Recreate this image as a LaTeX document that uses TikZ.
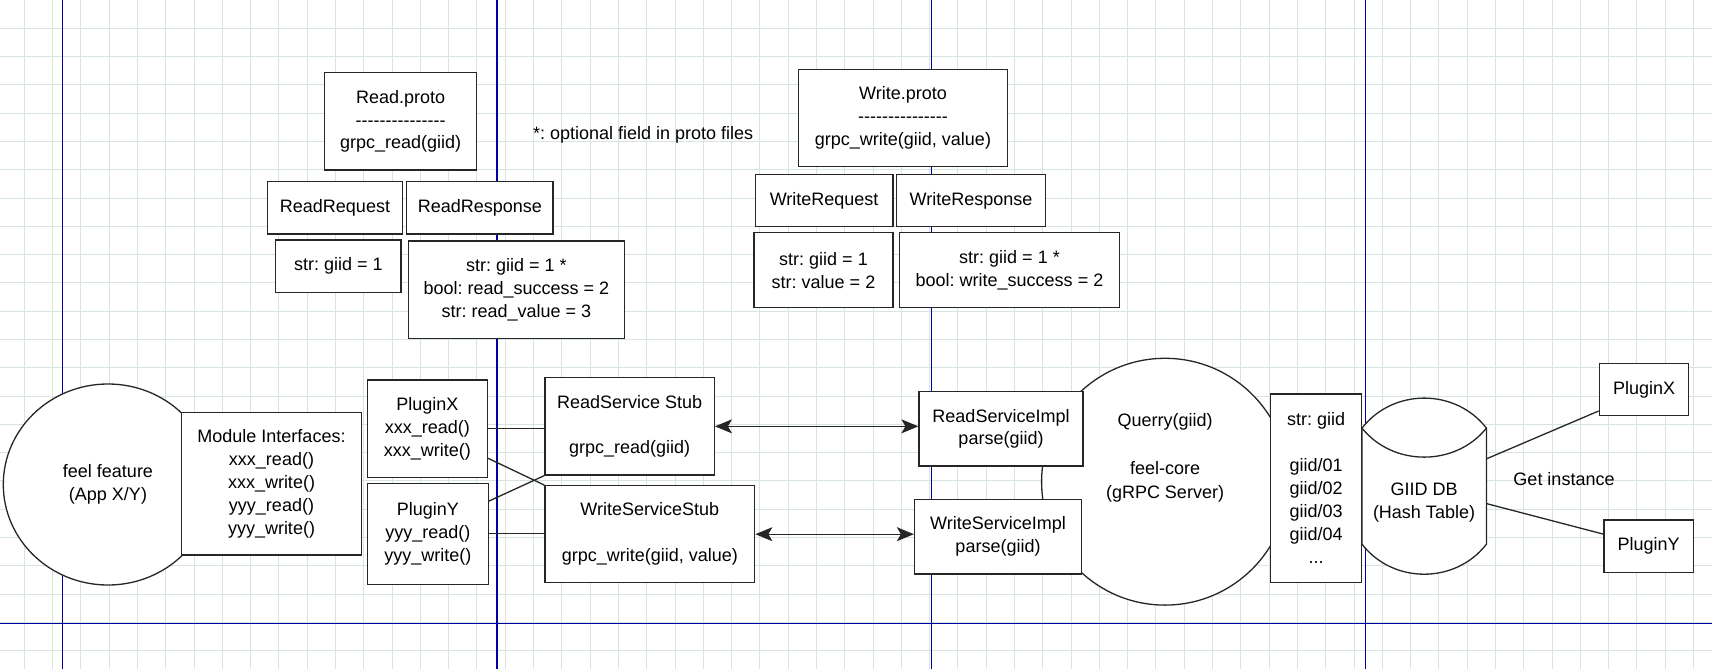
\documentclass[tikz,border=0pt]{standalone}
\usepackage{fontspec}
\setmainfont{Liberation Sans}
\frenchspacing
\usetikzlibrary{shapes.geometric,arrows.meta,calc}
\definecolor{gridcol}{RGB}{216,228,226}
\definecolor{pagecol}{RGB}{0,0,160}
\newcommand\dashrow{\foreach\d in {1,...,15}{-}}
\tikzset{
  pagegrid/.style={draw=gridcol,line width=0.9pt},
  pageedge/.style={draw=pagecol,line width=1.1pt},
  box/.style n args={2}{draw=black!85,fill=white,line width=1.3pt,inner sep=0pt,align=center,minimum width=#1,minimum height=#2},
  blob/.style={ellipse,draw=black!85,fill=white,line width=1.3pt,inner sep=0pt,align=center},
  wire/.style={draw=black!85,line width=1.3pt},
  sync/.style={wire,{Stealth[length=17pt,width=14pt,inset=4pt]}-{Stealth[length=17pt,width=14pt,inset=4pt]}}
}
\begin{document}
\begin{tikzpicture}[x=1pt,y=-1pt,font=\fontsize{18}{22.9}\selectfont]
\useasboundingbox (0,0) rectangle (1712,669);

% page background
\foreach \k in {0,...,59}
  \draw[pagegrid] ({24.3+\k*28.29},0) -- ({24.3+\k*28.29},669);
\foreach \k in {0,...,22}
  \draw[pagegrid] (0,{28.3+\k*28.29}) -- (1712,{28.3+\k*28.29});
\foreach \px in {62.3,497,931.2,1365.3}
  \draw[pageedge] (\px,0) -- (\px,669);
\draw[pageedge] (0,623.3) -- (1712,623.3);

% client side
\node[blob,minimum width=209.4,minimum height=201] (feel) at (108,484.5) {feel feature\\(App X/Y)};
\node[box={179.6}{142.3}] (iface) at (271.5,483.85) {Module Interfaces:\\xxx\_read()\\xxx\_write()\\yyy\_read()\\yyy\_write()};
\node[box={120}{97.3}] (plugx) at (427.3,428.65) {PluginX\\xxx\_read()\\xxx\_write()};
\node[box={121}{101}] (plugy) at (427.8,533.8) {PluginY\\yyy\_read()\\yyy\_write()};
\node[box={169.4}{97.3}] (rstub) at (629.6,426.35) {ReadService Stub\\\mbox{}\\grpc\_read(giid)};
\node[box={209.8}{97}] (wstub) at (649.8,534.2) {WriteServiceStub\\\mbox{}\\grpc\_write(giid, value)};

\draw[wire] (plugx.east) -- (plugx.east -| rstub.west);
\draw[wire] ($(plugx.east)!0.6!(plugx.south east)$) -- (wstub.north west);
\draw[wire] ($(plugy.north east)!0.36!(plugy.east)$) -- (rstub.south west);
\draw[wire] (plugy.east) -- (plugy.east -| wstub.west);

% server side
\node[blob,minimum width=246.8,minimum height=246.8] (core) at (1165,481.7) {};
\node[align=center,font=\fontsize{18}{24.2}\selectfont] (coretext) at (1165,458) {Querry(giid)\\\mbox{}\\feel-core\\(gRPC Server)};
\node[box={164}{74.3}] (rimpl) at (1001,428.85) {ReadServiceImpl\\parse(giid)};
\node[box={167}{74.7}] (wimpl) at (998,536.65) {WriteServiceImpl\\parse(giid)};
\node[box={91}{188.3}] (giids) at (1316.2,488.15) {str: giid\\\mbox{}\\giid/01\\giid/02\\giid/03\\giid/04\\...};

\draw[sync] (rstub.east) -- (rstub.east -| rimpl.west);
\draw[sync] (wstub.east) -- (wstub.east -| wimpl.west);

% hash table
\node[minimum width=124,minimum height=115.7,inner sep=0pt] (db) at (1424.2,486.15) {};
\filldraw[wire,fill=white] (db.north west) .. controls +(31,-40) and +(-31,-40) .. (db.north east)
  -- (db.south east) .. controls +(-31,40) and +(31,40) .. (db.south west) -- cycle;
\draw[wire] (db.north west) .. controls +(31,38.7) and +(-31,38.7) .. (db.north east);
\node[align=center] (dbtext) at (1424,502.2) {GIID DB\\(Hash Table)};

\node[box={89.4}{52.4}] (plugxr) at (1644,389.5) {PluginX};
\node[box={89.3}{52.3}] (plugyr) at (1648.7,546.2) {PluginY};
\node (getinst) at (1564,479) {Get instance};
\draw[wire] ($(db.north east)!0.265!(db.south east)$) -- ($(plugxr.south west)!0.2!(plugxr.west)$);
\draw[wire] ($(db.north east)!0.65!(db.south east)$) -- ($(plugyr.north west)!0.55!(plugyr.west)$);

% proto files
\node[box={152.2}{97.3}] (rproto) at (400.7,121.35) {Read.proto\\\dashrow\\grpc\_read(giid)};
\node[box={135.5}{52.3}] (rreq) at (335,207.85) {ReadRequest};
\node[box={146.4}{52.3}] (rresp) at (479.9,207.85) {ReadResponse};
\node[box={125.2}{52.3}] (rreqf) at (338.4,266.15) {str: giid = 1};
\node[box={215.9}{97.3}] (rrespf) at (516.35,289.65) {str: giid = 1 *\\bool: read\_success = 2\\str: read\_value = 3};
\node (optnote) at (643.2,135) {*: optional field in proto files};

\node[box={209.6}{97.4}] (wproto) at (903,118) {Write.proto\\\dashrow\\grpc\_write(giid, value)};
\node[box={137.8}{52.4}] (wreq) at (824.1,200.5) {WriteRequest};
\node[box={149.2}{52.4}] (wresp) at (971,200.5) {WriteResponse};
\node[box={139}{75}] (wreqf) at (823.5,270.2) {str: giid = 1\\str: value = 2};
\node[box={220.4}{75}] (wrespf) at (1009.5,270.2) {str: giid = 1 *\\bool: write\_success = 2};

\end{tikzpicture}
\end{document}
